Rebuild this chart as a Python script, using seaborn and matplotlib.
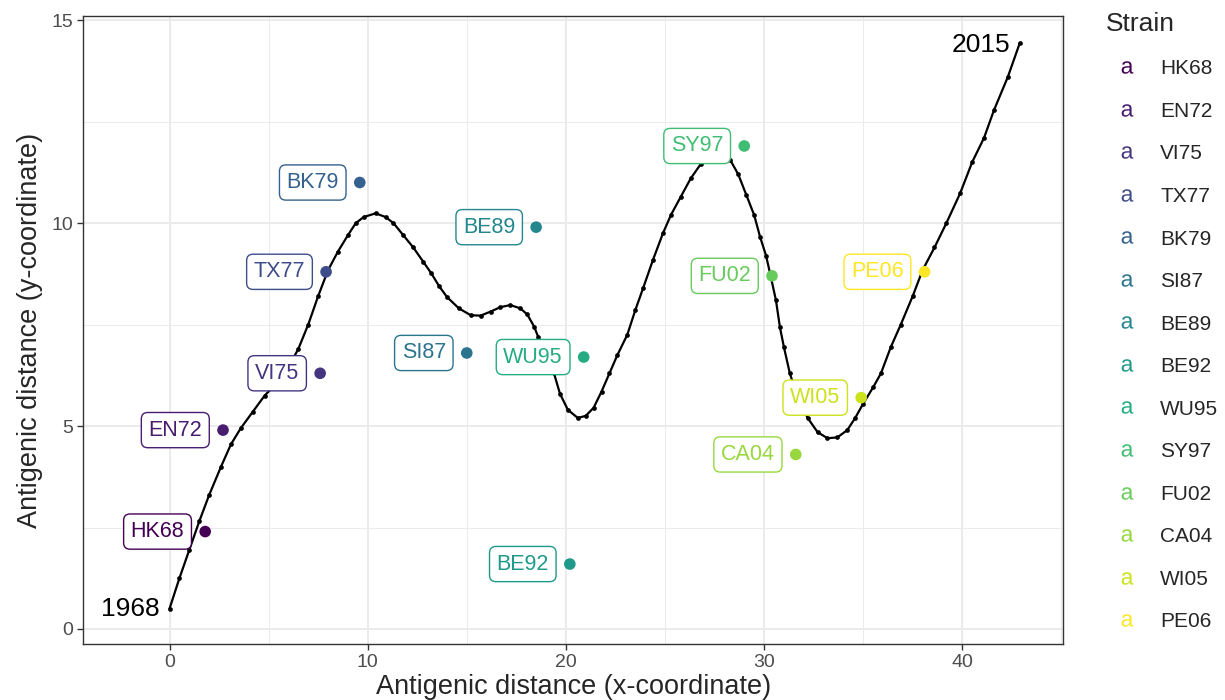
import numpy as np
import pandas as pd
import matplotlib
matplotlib.use("Agg")
import matplotlib.pyplot as plt
from matplotlib.lines import Line2D
import seaborn as sns

# strain positions on the antigenic map
strains = ["HK68", "EN72", "VI75", "TX77", "BK79", "SI87", "BE89",
           "BE92", "WU95", "SY97", "FU02", "CA04", "WI05", "PE06"]
strain_x = [1.8, 2.7, 7.6, 7.9, 9.6, 15.0, 18.5, 20.2, 20.9, 29.0, 30.4, 31.6, 34.9, 38.1]
strain_y = [2.4, 4.9, 6.3, 8.8, 11.0, 6.8, 9.9, 1.6, 6.7, 11.9, 8.7, 4.3, 5.7, 8.8]

# fitted path through time
path_x = [0.0, 0.5, 1.0, 1.5, 2.0, 2.6, 3.1, 3.6, 4.2, 4.8, 5.4, 6.0, 6.5, 7.0,
          7.5, 8.0, 8.5, 9.0, 9.4, 9.8, 10.4, 10.9, 11.3, 11.8, 12.3, 12.8,
          13.2, 13.6, 14.0, 14.6, 15.2, 15.7, 16.2, 16.7, 17.2, 17.7, 18.05,
          18.4, 18.6, 19.0, 19.4, 19.7, 20.1, 20.6, 21.0, 21.4, 21.8, 22.2,
          22.6, 23.1, 23.5, 23.9, 24.4, 24.9, 25.3, 25.8, 26.3, 26.8, 27.3,
          27.8, 28.3, 28.7, 29.1, 29.5, 29.8, 30.1, 30.3, 30.6, 30.8, 31.0,
          31.3, 31.7, 32.2, 32.7, 33.2, 33.7, 34.2, 34.6, 35.0, 35.5, 35.9,
          36.4, 36.9, 37.5, 38.0, 38.6, 39.2, 39.9, 40.5, 41.1, 41.6, 42.3, 42.9]
path_y = [0.5, 1.25, 1.95, 2.65, 3.3, 4.0, 4.55, 4.95, 5.35, 5.75, 6.05, 6.45,
          6.9, 7.5, 8.2, 8.84, 9.3, 9.7, 10.0, 10.15, 10.24, 10.15, 10.0, 9.7,
          9.4, 9.05, 8.77, 8.45, 8.18, 7.9, 7.73, 7.72, 7.82, 7.93, 7.98, 7.9,
          7.75, 7.45, 7.2, 6.75, 6.3, 5.8, 5.4, 5.2, 5.25, 5.45, 5.85, 6.3,
          6.75, 7.25, 7.85, 8.4, 9.1, 9.75, 10.2, 10.65, 11.1, 11.45, 11.62,
          11.65, 11.55, 11.2, 10.7, 10.2, 9.66, 9.2, 8.77, 8.1, 7.44, 6.95,
          6.3, 5.7, 5.2, 4.85, 4.7, 4.72, 4.9, 5.2, 5.55, 5.95, 6.3, 6.95,
          7.5, 8.2, 8.84, 9.4, 10.0, 10.74, 11.5, 12.1, 12.78, 13.6, 14.43]
year_start, year_end = "1968", "2015"

sns.set_theme(style="whitegrid")
plt.rcParams["font.family"] = ["Liberation Sans", "DejaVu Sans"]

strain_df = pd.DataFrame({"strain": strains, "x": strain_x, "y": strain_y})
path_df = pd.DataFrame({"x": path_x, "y": path_y})
colors = [matplotlib.colors.to_hex(c) for c in plt.cm.viridis(np.linspace(0, 1, len(strains)))]
pal = dict(zip(strains, colors))

fig = plt.figure(figsize=(12.25, 7), dpi=100)
ax = fig.add_axes([0.068, 0.08, 0.8, 0.897])

sns.lineplot(data=path_df, x="x", y="y", color="black", lw=1.6, sort=False,
             marker="o", markersize=3.4, markeredgewidth=0, ax=ax, zorder=3)
sns.scatterplot(data=strain_df, x="x", y="y", hue="strain", palette=pal, s=70,
                linewidth=0, legend=False, ax=ax, zorder=4)

for s, x, y in zip(strains, strain_x, strain_y):
    ax.annotate(s, (x, y), xytext=(-15, 0), textcoords="offset points",
                ha="right", va="center", fontsize=15.5, color=pal[s], zorder=5,
                bbox=dict(boxstyle="round,pad=0.33,rounding_size=0.3", fc="white",
                          ec=pal[s], lw=1.0))

ax.annotate(year_start, (path_x[0], path_y[0]), xytext=(-7, 0), textcoords="offset points",
            ha="right", va="center", fontsize=19, color="black")
ax.annotate(year_end, (path_x[-1], path_y[-1]), xytext=(-7, -1), textcoords="offset points",
            ha="right", va="center", fontsize=19, color="black")

ax.set_xticks([0, 10, 20, 30, 40])
ax.set_yticks([0, 5, 10, 15])
ax.set_xticks([-5, 5, 15, 25, 35, 45], minor=True)
ax.set_yticks([2.5, 7.5, 12.5], minor=True)
ax.set_xlim(-4.35, 45.1)
ax.set_ylim(-0.37, 15.1)
ax.grid(which="major", color="#EBEBEB", lw=1.4)
ax.grid(which="minor", color="#EBEBEB", lw=0.7)
ax.set_facecolor("white")
for sp in ax.spines.values():
    sp.set_color("#333333")
    sp.set_linewidth(1.0)
ax.tick_params(which="major", length=4, width=1, color="#333333", labelsize=14,
               labelcolor="#4D4D4D", pad=3, bottom=True, left=True)
ax.tick_params(which="minor", length=0)
ax.set_xlabel("Antigenic distance (x-coordinate)", fontsize=19.5, labelpad=2)
ax.set_ylabel("Antigenic distance (y-coordinate)", fontsize=19.5, labelpad=6)

handles = [Line2D([], [], marker=r"$\mathregular{a}$", linestyle="", color=pal[s],
                  markersize=9, markeredgewidth=0) for s in strains]
leg = fig.legend(handles, strains, title="Strain", loc="upper left",
                 bbox_to_anchor=(0.896, 0.995), frameon=False, fontsize=15,
                 title_fontsize=19, labelspacing=1.13, handletextpad=0.6,
                 alignment="left", borderaxespad=0)

fig.savefig("out.png", dpi=100)
